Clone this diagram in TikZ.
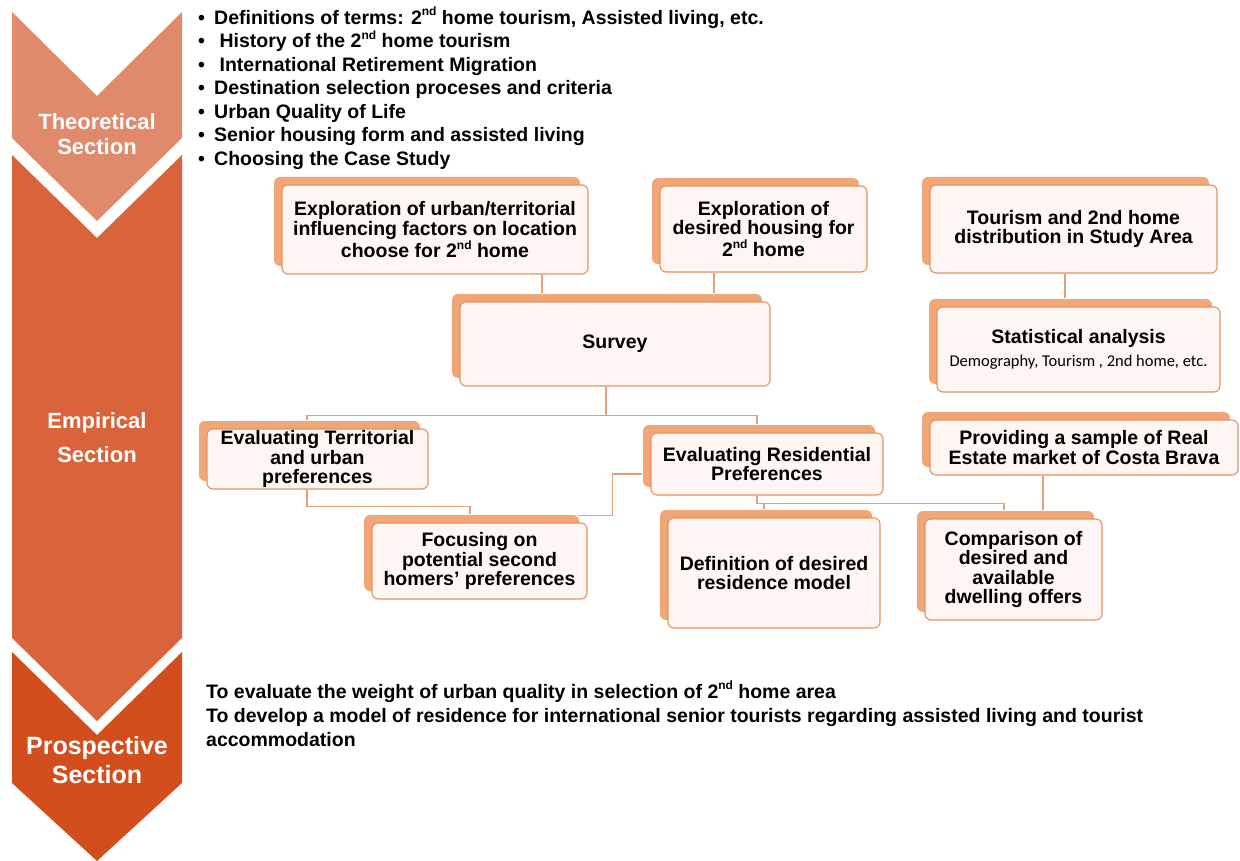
\documentclass[tikz,border=0pt]{standalone}
\usepackage{fontspec}
\setmainfont{Liberation Sans}
\newfontfamily\calfont{Carlito}
\usetikzlibrary{shadows,calc}

\definecolor{theoc}{HTML}{E08A6B}
\definecolor{empc}{HTML}{D9633A}
\definecolor{prosc}{HTML}{D24E1D}
\definecolor{shadc}{HTML}{F0A677}
\definecolor{bordc}{HTML}{E2925F}
\definecolor{fillc}{HTML}{FEF6F2}
\definecolor{linkc}{HTML}{E4A07A}

\newcommand\cardfont{\bfseries\fontsize{19.5}{19.5}\selectfont}
\newcommand\ordsup[1]{\raisebox{0.42em}{\fontsize{12}{12}\selectfont #1}}

\tikzset{
  card/.style={draw=bordc, fill=fillc, rounded corners=6pt, line width=1.1pt,
    general shadow={fill=shadc, shadow xshift=-8pt, shadow yshift=8pt},
    align=center, inner sep=0pt, font=\cardfont},
  link/.style={draw=linkc, line width=1.1pt},
  sectlabel/.style={text=white, align=center},
}

\begin{document}
\begin{tikzpicture}[x=1pt, y=-1pt]
\useasboundingbox (0,0) rectangle (1240,861);

% section chevrons
\fill[theoc] (12,12) -- (97,96) -- (182,12) -- (182,138) -- (97,221) -- (12,138) -- cycle;
\fill[empc] (12,155) -- (97,238) -- (182,155) -- (182,638) -- (97,721) -- (12,638) -- cycle;
\fill[prosc] (12,652) -- (97,735) -- (182,652) -- (182,783) -- (97,861) -- (12,783) -- cycle;

\node[sectlabel, font=\bfseries\fontsize{22}{25}\selectfont] (theo) at (97,134) {Theoretical\\Section};
\node[sectlabel, font=\bfseries\fontsize{22}{34}\selectfont] (emp) at (97,438) {Empirical\\Section};
\node[sectlabel, font=\bfseries\fontsize{25}{29}\selectfont] (pros) at (97,760) {Prospective\\Section};

% theoretical topics
\node[anchor=north west, align=left, inner sep=0pt,
      font=\bfseries\fontsize{19.5}{23.5}\selectfont] (topics) at (198,7)
 {\makebox[16pt][l]{•}Definitions of terms: 2\ordsup{nd} home tourism, Assisted living, etc.\\
  \makebox[16pt][l]{•}\ History of the 2\ordsup{nd} home tourism\\
  \makebox[16pt][l]{•}\ International Retirement Migration\\
  \makebox[16pt][l]{•}Destination selection proceses and criteria\\
  \makebox[16pt][l]{•}Urban Quality of Life\\
  \makebox[16pt][l]{•}Senior housing form and assisted living\\
  \makebox[16pt][l]{•}Choosing the Case Study};

% empirical boxes
\node[card, minimum width=306pt, minimum height=89pt] (explore) at (435,229.5)
 {Exploration of urban/territorial\\influencing factors on location\\choose for 2\ordsup{nd} home};
\node[card, minimum width=207pt, minimum height=86pt] (housing) at (763.5,229)
 {Exploration of\\desired housing for\\2\ordsup{nd} home};
\node[card, minimum width=287pt, minimum height=88pt] (tourism) at (1073.5,229)
 {Tourism and 2nd home\\distribution in Study Area};
\node[card, minimum width=310pt, minimum height=84pt] (survey) at (615,344) {Survey};
\node[card, minimum width=283pt, minimum height=85pt] (stat) at (1078.5,349.5)
 {Statistical analysis\\[4pt]{\calfont\mdseries\fontsize{16.5}{18}\selectfont Demography, Tourism , 2nd home, etc.}};
\node[card, minimum width=221pt, minimum height=60pt] (evalterr) at (317.5,459)
 {Evaluating Territorial\\and urban\\preferences};
\node[card, minimum width=215pt, minimum height=76pt] (focus) at (479.5,561)
 {Focusing on\\potential second\\homers’ preferences};
\node[card, minimum width=232pt, minimum height=62pt] (evalres) at (767,464)
 {Evaluating Residential\\Preferences};
\node[card, minimum width=308pt, minimum height=55pt] (sample) at (1084,447.5)
 {Providing a sample of Real\\Estate market of Costa Brava};
\node[card, minimum width=212pt, minimum height=110pt] (model) at (774,573)
 {Definition of desired\\residence model};
\node[card, minimum width=177pt, minimum height=101pt] (compare) at (1013.5,569.5)
 {Comparison of\\desired and\\available\\dwelling offers};

% connectors
\draw[link] ([xshift=-73pt]survey.north |- explore.south) -- ([xshift=-73pt,yshift=8pt]survey.north);
\draw[link] ([xshift=99pt]survey.north |- housing.south) -- ([xshift=99pt,yshift=8pt]survey.north);
\draw[link] ([xshift=-8.5pt]tourism.south) -- ([xshift=-13.5pt,yshift=8pt]stat.north);
\draw[link] ([xshift=-9pt]survey.south) -- ++(0,29) -| ([xshift=-10.5pt,yshift=8pt]evalterr.north);
\draw[link] ([xshift=-9pt]survey.south) -- ++(0,29) -| ([xshift=-10pt,yshift=8pt]evalres.north);
\draw[link] ([xshift=-10.5pt]evalterr.south) -- ++(0,17) -| ([xshift=-9.5pt,yshift=8pt]focus.north);
\draw[link] ([xshift=-10pt,yshift=7pt]focus.north east) -- ++(35,0) |- ([xshift=-8pt,yshift=-10pt]evalres.west);
\draw[link] ([xshift=-10pt]evalres.south) -- ++(0,8) -| ([xshift=-9.5pt,yshift=8pt]compare.north);
\draw[link] ([xshift=-10pt]evalres.south) ++(0,8) -| ([xshift=-10pt,yshift=8pt]model.north);
\draw[link] ([xshift=-41pt]sample.south) -- ([xshift=29.5pt,yshift=8pt]compare.north);

% prospective aims
\node[anchor=north west, align=left, inner sep=0pt,
      font=\bfseries\fontsize{19.5}{24}\selectfont] (aims) at (206,681)
 {To evaluate the weight of urban quality in selection of 2\ordsup{nd} home area\\
  To develop a model of residence for international senior tourists regarding assisted living and tourist\\
  accommodation};
\end{tikzpicture}
\end{document}
